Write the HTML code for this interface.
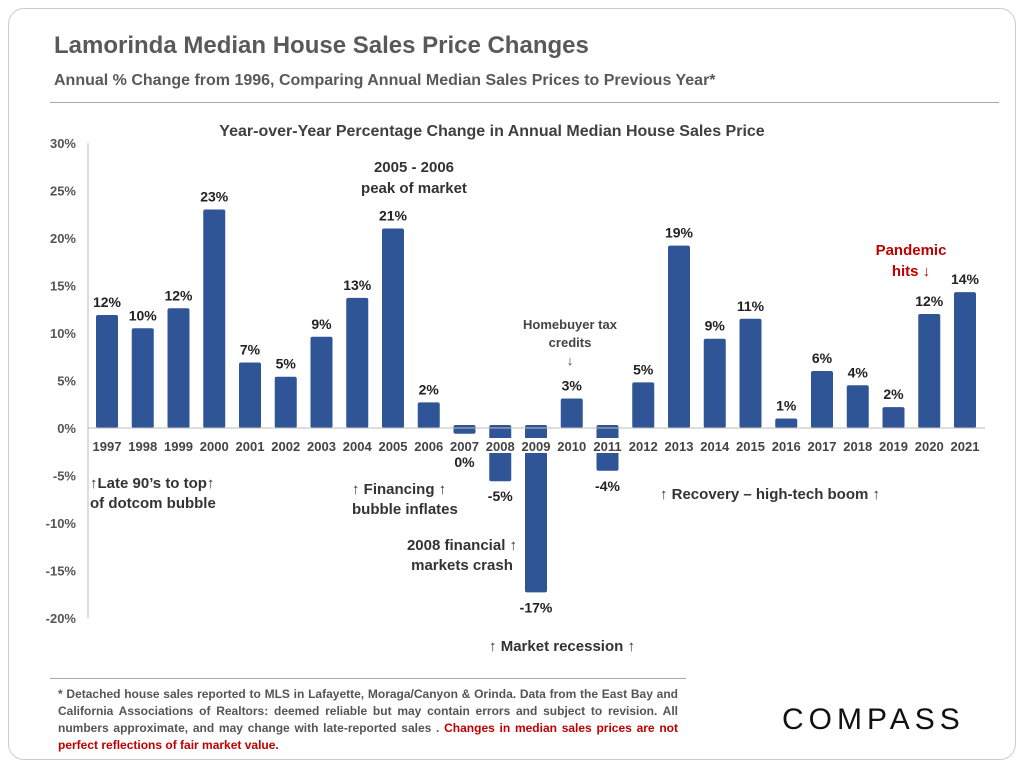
<!DOCTYPE html>
<html><head><meta charset="utf-8"><style>
body{margin:0;background:#fff;font-family:"Liberation Sans",Arial,sans-serif}
#card{position:absolute;left:8px;top:8px;width:1006px;height:750px;border:1px solid #ccc;border-radius:16px;background:#fff}
.t{position:absolute;color:#555;font-weight:bold}
</style></head><body>
<div id="card"></div>
<div class="t" style="left:54px;top:32px;font-size:24px;color:#595959">Lamorinda Median House Sales Price Changes</div>
<div class="t" style="left:54px;top:72px;font-size:16px;color:#595959">Annual % Change from 1996, Comparing Annual Median Sales Prices to Previous Year*</div>
<div style="position:absolute;left:50px;top:102px;width:949px;height:1px;background:#aaa"></div>
<svg id="chart" width="1024" height="768" style="position:absolute;left:0;top:0" font-family="Liberation Sans,Arial,sans-serif"></svg>
<div style="position:absolute;left:50px;top:678px;width:636px;height:1px;background:#aaa"></div>
<div style="position:absolute;left:58px;top:686px;width:620px;font-size:12px;line-height:17px;font-weight:bold;color:#555;text-align:justify">* Detached house sales reported to MLS in Lafayette, Moraga/Canyon &amp; Orinda. Data from the East Bay and California Associations of Realtors:  deemed reliable but may contain errors and subject to revision. All numbers approximate, and may change with late-reported sales . <span style="color:#c00000">Changes in median sales prices are not perfect reflections of fair market value.</span></div>
<div style="position:absolute;left:782px;top:703px;font-size:30px;letter-spacing:5px;color:#111">COMPASS</div>
<script>
const years=["1997","1998","1999","2000","2001","2002","2003","2004","2005","2006","2007","2008","2009","2010","2011","2012","2013","2014","2015","2016","2017","2018","2019","2020","2021"];
const values=[11.9,10.5,12.6,23,6.9,5.4,9.6,13.7,21,2.7,-0.6,-5.6,-17.3,3.1,-4.5,4.8,19.2,9.4,11.5,1,6,4.5,2.2,12,14.3];
const valueLabels=["12%","10%","12%","23%","7%","5%","9%","13%","21%","2%","0%","-5%","-17%","3%","-4%","5%","19%","9%","11%","1%","6%","4%","2%","12%","14%"];
const yTicks=[30,25,20,15,10,5,0,-5,-10,-15,-20];
const NS="http://www.w3.org/2000/svg";
const svg=document.getElementById('chart');
const y=v=>428-v*9.5;
const x=i=>107+i*35.75;
function el(t,a,txt){const e=document.createElementNS(NS,t);for(const k in a)e.setAttribute(k,a[k]);if(txt!=null)e.textContent=txt;svg.appendChild(e);return e;}
let e=el('text',{x:492,y:136,'text-anchor':'middle','font-size':16,'font-weight':'bold',fill:'#404040'},'Year-over-Year Percentage Change in Annual Median House Sales Price');

e=el('line',{x1:88,y1:y(30),x2:88,y2:y(-20),stroke:'#bbb'});

yTicks.forEach(t=>{const l=el('text',{x:76,y:y(t)+5,'text-anchor':'end','font-size':13,'font-weight':'bold',fill:'#555'},t+'%');
});
values.forEach((v,i)=>{const top=v>=0?y(v):y(0)-3,h=Math.abs(y(v)-y(0))+(v>=0?0:3);
const r=el('rect',{x:x(i)-11,y:top,width:22,height:h,rx:2,fill:'#2f5597'});
});
e=el('line',{x1:88,y1:y(0),x2:985,y2:y(0),stroke:'#bbb'});

years.forEach((yr,i)=>{const b=el('rect',{x:x(i)-16,y:438,width:32,height:15,fill:'#fff'});

const t=el('text',{x:x(i),y:451,'text-anchor':'middle','font-size':13,'font-weight':'bold',fill:'#444'},yr);
});
values.forEach((v,i)=>{const ty=v>=0?y(v)-8:(i==10?467:y(v)+20);
const t=el('text',{x:x(i),y:ty,'text-anchor':'middle','font-size':14,'font-weight':'bold',fill:'#222'},valueLabels[i]);
});
const notes=[[90,488,'start','↑Late 90’s to top↑','#333'],[90,508,'start','of dotcom bubble','#333'],[352,494,'start','↑ Financing ↑','#333'],[352,514,'start','bubble inflates','#333'],
[414,172,'middle','2005 - 2006','#333'],[414,193,'middle','peak of market','#333'],[462,550,'middle','2008 financial ↑','#333'],[462,570,'middle','markets crash','#333'],
[562,651,'middle','↑ Market recession ↑','#333'],[770,499,'middle','↑  Recovery – high-tech boom ↑','#333'],[911,255,'middle','Pandemic','#c00000'],[911,276,'middle','hits ↓','#c00000']];
notes.forEach(n=>{const t=el('text',{x:n[0],y:n[1],'text-anchor':n[2],'font-size':15,'font-weight':'bold',fill:n[4]},n[3]);
});
[[570,329,'Homebuyer tax'],[570,347,'credits'],[570,365,'↓']].forEach(n=>{const t=el('text',{x:n[0],y:n[1],'text-anchor':'middle','font-size':13,'font-weight':'bold',fill:'#444'},n[2]);
});
</script>
</body></html>
